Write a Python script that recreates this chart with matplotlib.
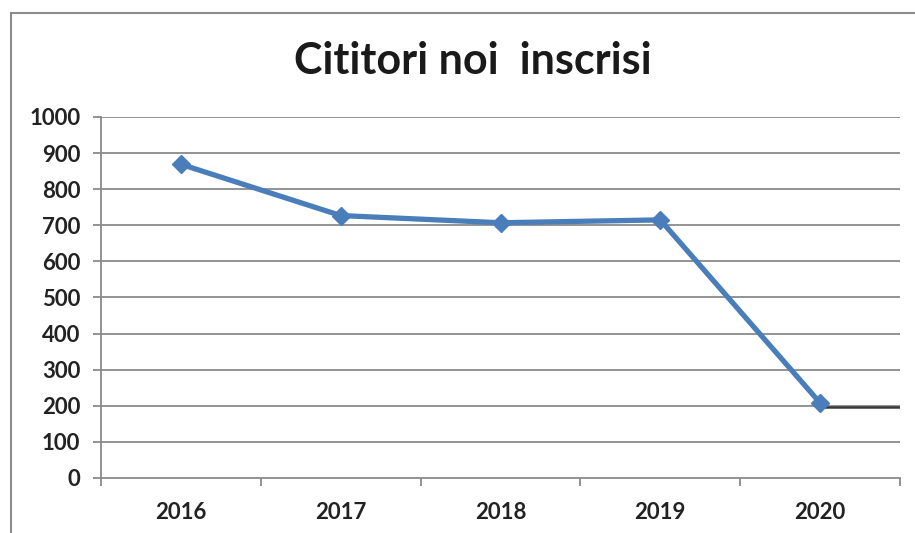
import numpy as np
from matplotlib import pyplot as plt
from matplotlib.patches import Rectangle

years = ['2016', '2017', '2018', '2019', '2020']
readers = [869, 727, 707, 715, 208]
y_ticks = [0, 100, 200, 300, 400, 500, 600, 700, 800, 900, 1000]
# short dark stroke to the right of the last point (seen on the scan)
stroke_x = [4.0, 4.5]
stroke_y = [197, 197]

plt.rcParams['font.family'] = ['Lato', 'DejaVu Sans']

fig = plt.figure(figsize=(9.15, 5.33), dpi=100)
ax = fig.add_axes([0.1104, 0.1032, 0.8732, 0.6773])

# outer chart frame, cut by the right/bottom edges of the picture
fig.add_artist(Rectangle((11 / 915, -0.2), 1.2, 1.2 - 13 / 533,
                         transform=fig.transFigure, fill=False,
                         edgecolor='#8c8c8c', linewidth=1.5))

x = np.arange(len(years))
ax.set_xlim(-0.5, len(years) - 0.5)
ax.set_ylim(0, 1000)

for v in y_ticks[1:]:
    ax.axhline(v, color='#8a8a8a', linewidth=1.3, zorder=1)

ax.plot(x, readers, color='#4a7ebb', linewidth=3.8, marker='D',
        markersize=9, zorder=3)
ax.plot(stroke_x, stroke_y, color='#3a3a3a', linewidth=1.8, zorder=2)

ax.set_yticks(y_ticks)
ax.set_yticklabels([str(v) for v in y_ticks], fontsize=16,
                   fontweight='bold', color='#222222')
ax.set_xticks(np.arange(len(years) + 1) - 0.5)
ax.set_xticklabels([])
ax.set_xticks(x, minor=True)
ax.set_xticklabels(years, minor=True, fontsize=16, fontweight='bold',
                   color='#222222')
ax.tick_params(axis='x', which='major', direction='out', length=6,
               color='#8a8a8a', width=1.3)
ax.tick_params(axis='x', which='minor', length=0, pad=17)
ax.tick_params(axis='y', direction='out', length=6, color='#8a8a8a',
               width=1.3, pad=9)

for side in ['top', 'right']:
    ax.spines[side].set_visible(False)
for side in ['left', 'bottom']:
    ax.spines[side].set_color('#8a8a8a')
    ax.spines[side].set_linewidth(1.3)

fig.text(0.5165, 1 - 61 / 533, 'Cititori noi  inscrisi', ha='center',
         va='center', fontsize=31, fontweight='bold', color='#1a1a1a')

fig.savefig('out.png', dpi=100)
